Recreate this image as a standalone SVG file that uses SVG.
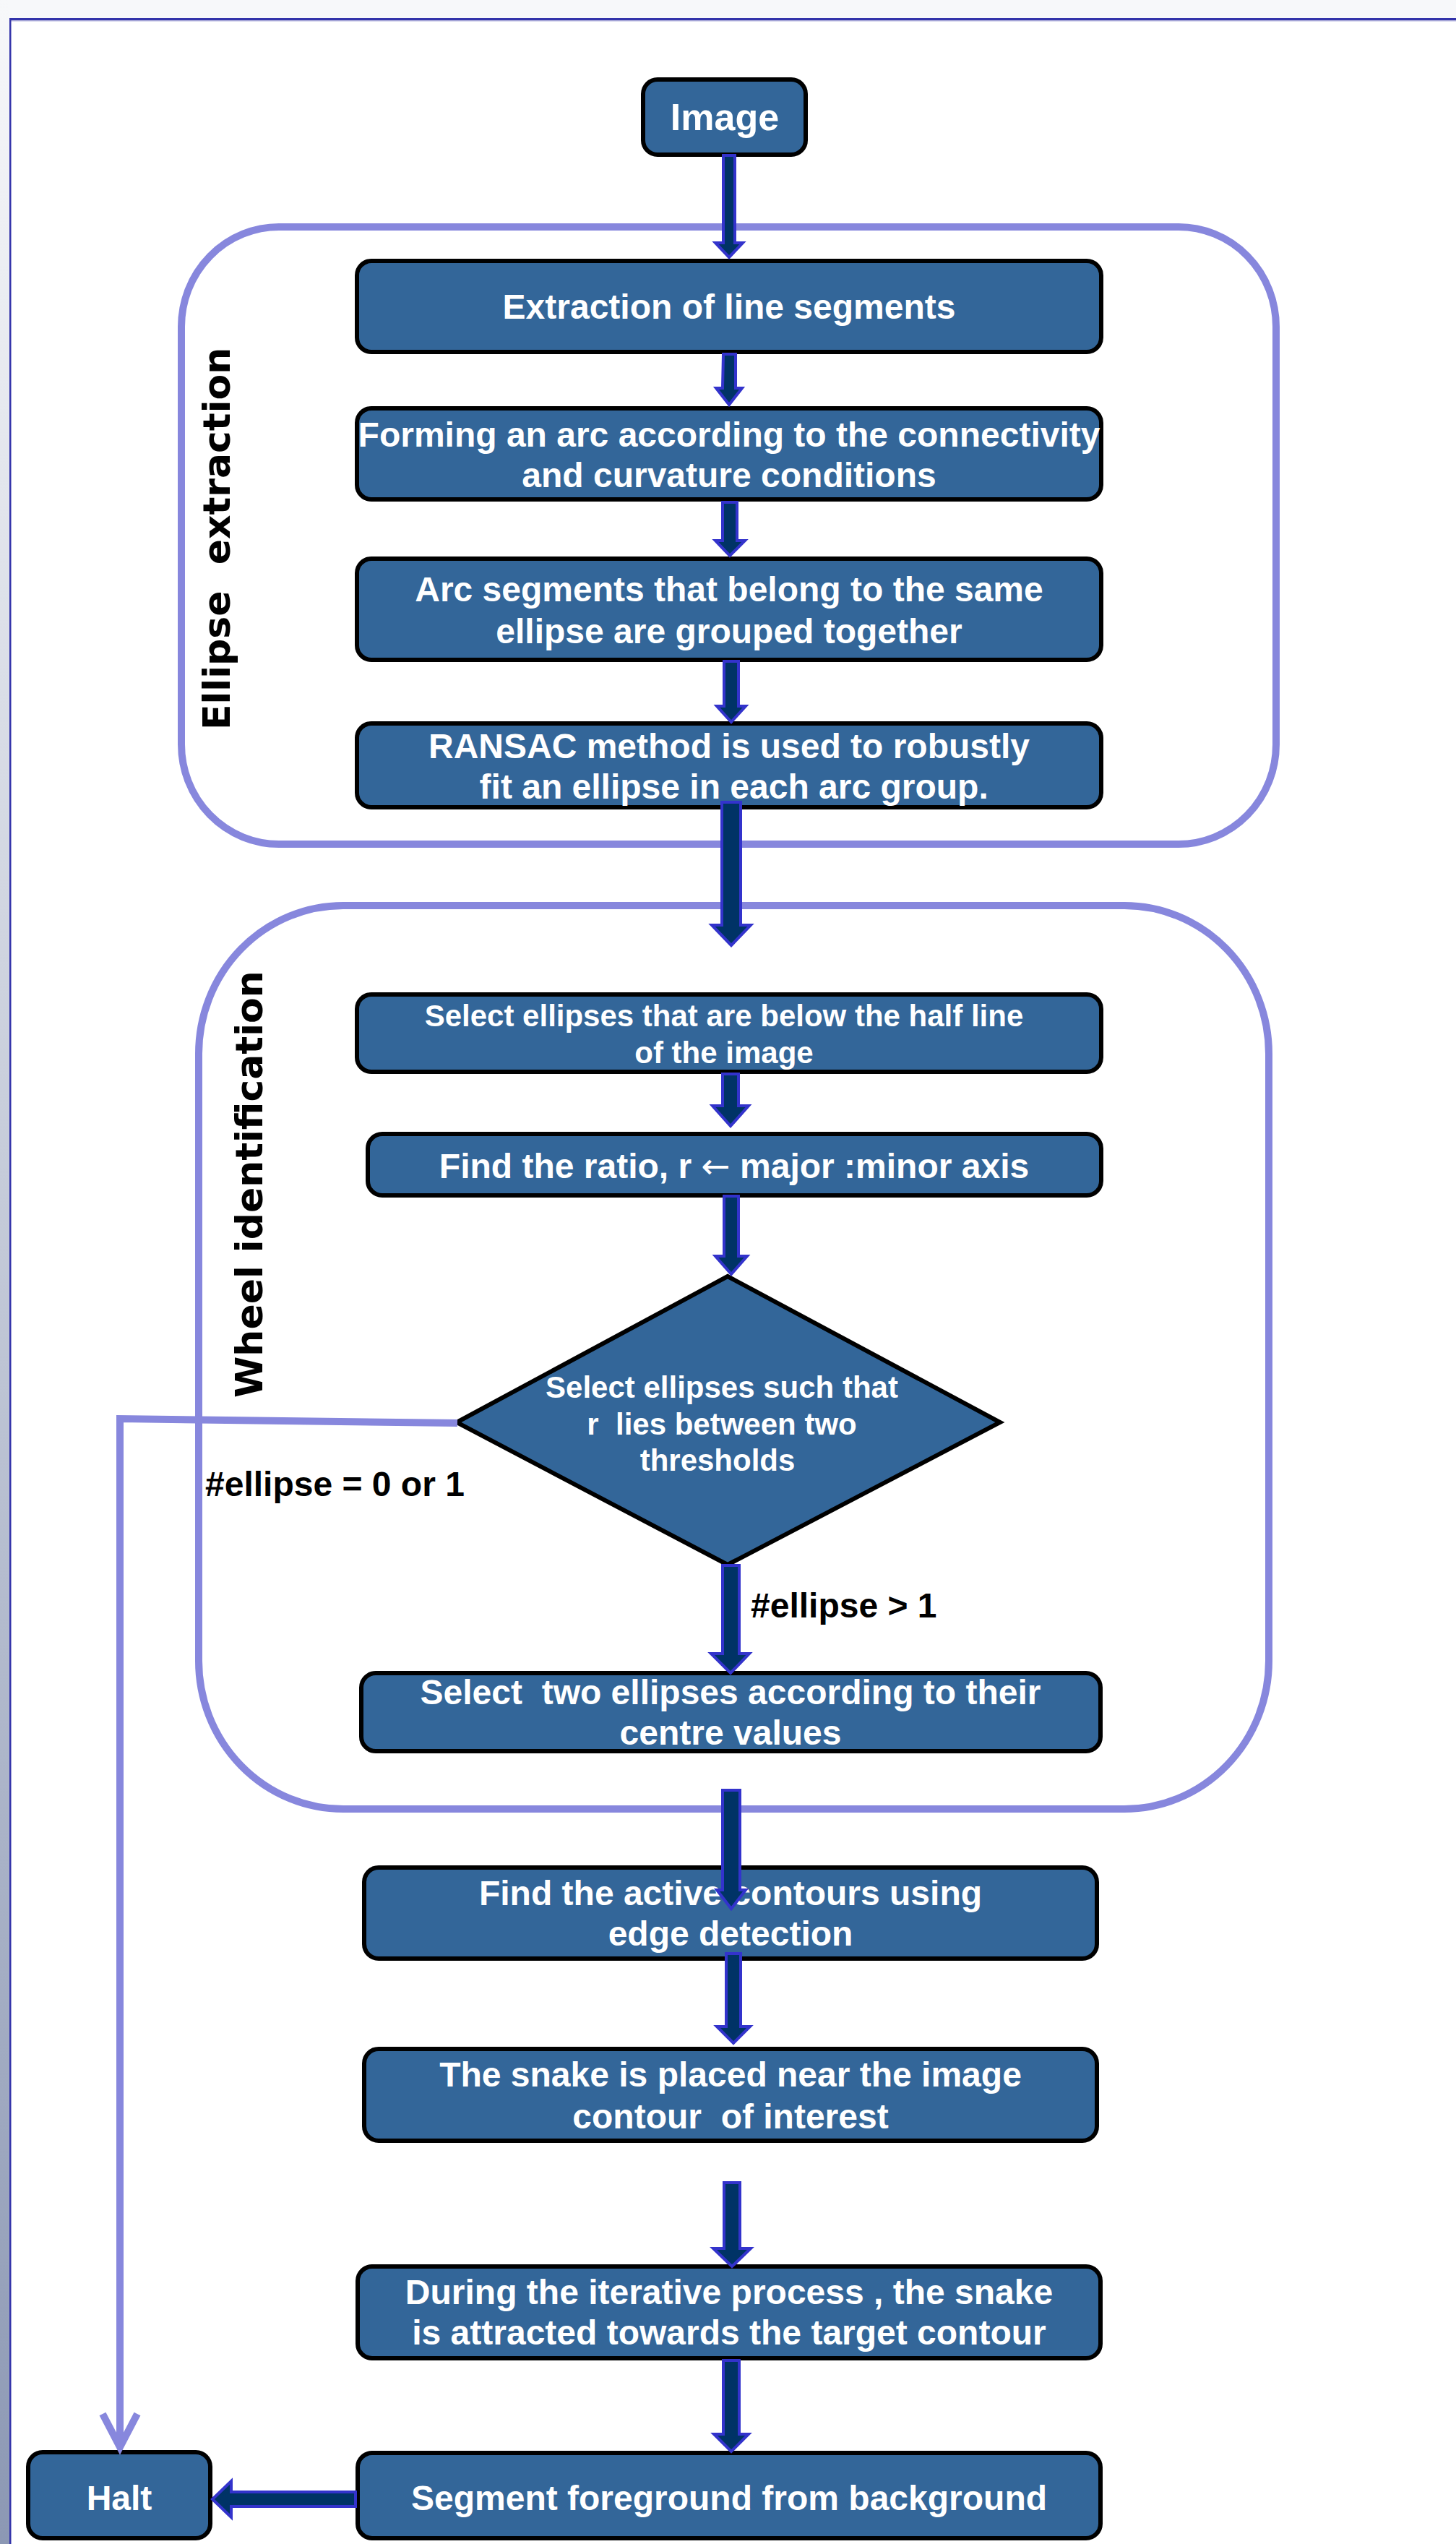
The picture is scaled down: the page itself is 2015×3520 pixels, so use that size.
<svg xmlns="http://www.w3.org/2000/svg" width="2015" height="3520" viewBox="0 0 2015 3520">
<defs>
<linearGradient id="lstrip" x1="0" y1="0" x2="0" y2="1">
<stop offset="0" stop-color="#f7f8fa"/>
<stop offset="1" stop-color="#8c98b4"/>
</linearGradient>
</defs>
<style>
.box{fill:#336699;stroke:#000;stroke-width:6}
.t{font-family:"Liberation Sans",Arial,sans-serif;font-weight:bold;font-size:48px;fill:#fff;text-anchor:middle}
.ts{font-size:42px}
.lbl{font-family:"Liberation Sans",Arial,sans-serif;font-weight:bold;font-size:48px;fill:#000}
.grp{fill:none;stroke:#8787dd;stroke-width:10}
.glbl{font-family:"DejaVu Sans",Verdana,sans-serif;font-weight:bold;font-size:52px;fill:#000}
.arr{fill:#003366;stroke:#3333cc;stroke-width:4;stroke-linejoin:miter}
.flow{fill:none;stroke:#8787dd;stroke-width:10}
.sym{font-family:"DejaVu Sans",sans-serif;font-weight:normal}
</style>
<rect x="0" y="0" width="2015" height="3520" fill="#ffffff"/>
<rect x="0" y="0" width="2015" height="26" fill="#f7f8fa"/>
<rect x="0" y="0" width="13" height="3520" fill="url(#lstrip)"/>
<rect x="13" y="25" width="2002" height="3" fill="#3333aa"/>
<rect x="13" y="28" width="2002" height="1.5" fill="#b4b4dd"/>
<rect x="13" y="25" width="2.5" height="3495" fill="#3333aa"/>

<g id="group-ellipse-extraction">
<rect class="grp" x="251" y="314" width="1515" height="854" rx="135" ry="138"/>
<text class="glbl" xml:space="preserve" transform="translate(318,1010) rotate(-90)">Ellipse  extraction</text>
</g>
<g id="group-wheel-identification">
<rect class="grp" x="275" y="1253" width="1481" height="1250" rx="200" ry="205"/>
<text class="glbl" transform="translate(363,1934) rotate(-90)">Wheel identification</text>
</g>

<g id="n-image">
<rect class="box" x="890" y="110" width="225" height="104" rx="20"/>
<text class="t" x="1003" y="180" style="font-size:52px">Image</text>
</g>
<g id="n-extraction">
<rect class="box" x="494" y="361" width="1030" height="126" rx="20"/>
<text class="t" x="1009" y="441">Extraction of line segments</text>
</g>
<g id="n-forming">
<rect class="box" x="494" y="565" width="1030" height="126" rx="20"/>
<text class="t" x="1009" y="618">Forming an arc according to the connectivity</text>
<text class="t" x="1009" y="674">and curvature conditions</text>
</g>
<g id="n-arcsegments">
<rect class="box" x="494" y="773" width="1030" height="140" rx="20"/>
<text class="t" x="1009" y="832">Arc segments that belong to the same</text>
<text class="t" x="1009" y="890">ellipse are grouped together</text>
</g>
<g id="n-ransac">
<rect class="box" x="494" y="1001" width="1030" height="116" rx="20"/>
<text class="t" x="1009" y="1049">RANSAC method is used to robustly</text>
<text class="t" x="1009" y="1105" xml:space="preserve"> fit an ellipse in each arc group.</text>
</g>
<g id="n-select-half">
<rect class="box" x="494" y="1376" width="1030" height="107" rx="20"/>
<text class="t ts" x="1002" y="1420">Select ellipses that are below the half line</text>
<text class="t ts" x="1002" y="1471">of the image</text>
</g>
<g id="n-ratio">
<rect class="box" x="509" y="1569" width="1015" height="85" rx="20"/>
<text class="t" x="1016" y="1630">Find the ratio, r <tspan class="sym">←</tspan> major :minor axis</text>
</g>
<g id="n-decision">
<polygon class="box" points="1007,1766 1384,1968 1007,2165 632,1968"/>
<text class="t ts" x="999" y="1934">Select ellipses such that</text>
<text class="t ts" x="999" y="1985" xml:space="preserve">r  lies between two</text>
<text class="t ts" x="993" y="2035">thresholds</text>
</g>
<g id="n-select-two">
<rect class="box" x="500" y="2315" width="1023" height="108" rx="20"/>
<text class="t" x="1011" y="2358" xml:space="preserve">Select  two ellipses according to their</text>
<text class="t" x="1011" y="2414">centre values</text>
</g>
<g id="n-active">
<rect class="box" x="504" y="2584" width="1014" height="126" rx="20"/>
<text class="t" x="1011" y="2636">Find the active contours using</text>
<text class="t" x="1011" y="2692">edge detection</text>
</g>
<g id="n-snake">
<rect class="box" x="504" y="2835" width="1014" height="127" rx="20"/>
<text class="t" x="1011" y="2887">The snake is placed near the image</text>
<text class="t" x="1011" y="2945" xml:space="preserve">contour  of interest</text>
</g>
<g id="n-iterative">
<rect class="box" x="495" y="3136" width="1028" height="127" rx="20"/>
<text class="t" x="1009" y="3188">During the iterative process , the snake</text>
<text class="t" x="1009" y="3244">is attracted towards the target contour</text>
</g>
<g id="n-segment">
<rect class="box" x="495" y="3394" width="1028" height="118" rx="20"/>
<text class="t" x="1009" y="3473">Segment foreground from background</text>
</g>
<g id="n-halt">
<rect class="box" x="39" y="3393" width="252" height="119" rx="20"/>
<text class="t" x="165" y="3473">Halt</text>
</g>

<g id="connectors">
<path class="arr" d="M1001,215 L1017,215 L1017,336 L1028,336 L1009,356 L990,336 L1001,336 Z"/>
<path class="arr" d="M1001,490 L1018,490 L1018,537 L1027,537 L1009,560 L991,537 L1000,537 Z"/>
<path class="arr" d="M1000,695 L1020,695 L1020,748 L1031,748 L1010,769 L990,748 L1000,748 Z"/>
<path class="arr" d="M1002,915 L1022,915 L1022,977 L1032,977 L1012,999 L992,977 L1002,977 Z"/>
<path class="arr" d="M999,1110 L1025,1110 L1025,1280 L1039,1280 L1012,1308 L985,1280 L999,1280 Z"/>
<path class="arr" d="M1000,1486 L1022,1486 L1022,1530 L1036,1530 L1011,1558 L986,1530 L1000,1530 Z"/>
<path class="arr" d="M1002,1655 L1022,1655 L1022,1738 L1034,1738 L1012,1763 L990,1738 L1002,1738 Z"/>
<path class="arr" d="M1000,2166 L1023,2166 L1023,2288 L1037,2288 L1011,2315 L984,2288 L1000,2288 Z"/>
<path class="arr" d="M1000,2477 L1024,2477 L1024,2615 L1032,2615 L1012,2641 L992,2615 L1000,2615 Z"/>
<path class="arr" d="M1005,2703 L1025,2703 L1025,2804 L1038,2804 L1015,2827 L992,2804 L1005,2804 Z"/>
<path class="arr" d="M1002,3020 L1024,3020 L1024,3111 L1039,3111 L1013,3136 L987,3111 L1002,3111 Z"/>
<path class="arr" d="M1001,3266 L1023,3266 L1023,3368 L1036,3368 L1012,3392 L988,3368 L1001,3368 Z"/>
<path class="arr" d="M492,3448 L492,3468 L320,3468 L320,3483 L294,3458 L320,3433 L320,3448 Z"/>
<path class="flow" d="M633,1969 L166,1963 L166,3386"/>
<path class="flow" d="M142,3340 L166,3386 L190,3340" stroke-width="8"/>
<text class="lbl" x="284" y="2070">#ellipse = 0 or 1</text>
<text class="lbl" x="1039" y="2238">#ellipse &gt; 1</text>
</g>
</svg>
